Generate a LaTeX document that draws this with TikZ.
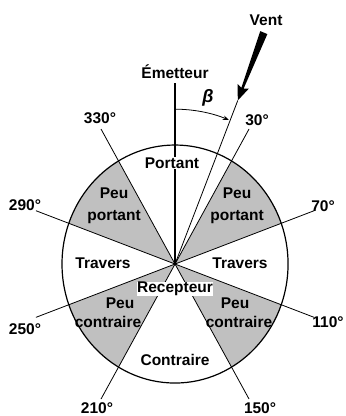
\documentclass[tikz,border=0pt]{standalone}
\usepackage{fontspec}
\setmainfont{Liberation Sans}
\usetikzlibrary{arrows.meta}
\definecolor{SectorGray}{HTML}{C0C0C0}

\tikzset{
  lbl/.style={font=\bfseries\fontsize{15.5}{18}\selectfont, inner sep=0pt},
  ray/.style={line width=0.8pt},
  sector/.style={fill=SectorGray},
}

\begin{document}
\begin{tikzpicture}[x=1pt, y=1pt, yscale=1.053]
  \useasboundingbox (-175,-144.3) rectangle (170,250.7);
  \coordinate (c) at (0,0);
  % Shaded sectors
  \begin{scope}
    \clip (c) circle[radius=113];
    \foreach \a in {20,-60,-160,120} {
      \fill[sector] (c) -- (\a:200) -- (\a+40:200) -- cycle;
    }
  \end{scope}
  % Circle and rays
  \draw[line width=1.2pt] (c) circle[radius=113];
  \foreach \b in {30,70,110,150,210,250,290,330} {
    \coordinate (r\b) at (90-\b:148);
    \draw[ray] (c) -- (r\b);
  }
  % Angle labels
  \foreach \b/\x/\y in {30/82/136.8, 70/148/55, 110/153/-55, 150/85/-136.8,
                        210/-78/-136.8, 250/-150/-61.7, 290/-150/56, 330/-75/138.6} {
    \node[lbl] (d\b) at (\x,\y) {\b°};
  }
  % Emitter axis
  \coordinate (etop) at (90:172);
  \draw[line width=2.6pt] (c) -- (etop);
  \node[lbl] (emet) at (0,182.4) {Émetteur};
  % Wind direction
  \coordinate (vtip) at (68:167.5);
  \draw[ray] (c) -- (vtip);
  \begin{scope}[rotate=68]
    \fill (167.5,0) -- (182,-6) -- (180,-1.2) -- (237,-3.8) -- (237,3.8) -- (180,1.2) -- (182,6) -- cycle;
  \end{scope}
  \node[lbl] (vent) at (91,231.7) {Vent};
  % Angle beta
  \coordinate (a0) at (90:147);
  \draw[ray, -{Stealth[length=6pt,width=4.5pt]}] (a0) arc[start angle=90, end angle=68.5, radius=147];
  \node[font=\bfseries\itshape\fontsize{18}{20}\selectfont, inner sep=0pt] (beta) at (33,157.6) {β};
  % Zones
  \node[lbl, fill=white, inner sep=0.5pt] (portant) at (-3,95.9) {Portant};
  \node[lbl] (ppL1) at (-61,67.4) {Peu};
  \node[lbl] (ppL2) at (-61,45) {portant};
  \node[lbl] (ppR1) at (62,67.4) {Peu};
  \node[lbl] (ppR2) at (62,45) {portant};
  \node[lbl] (travL) at (-72,1) {Travers};
  \node[lbl] (travR) at (65,1) {Travers};
  \node[lbl, fill=white, inner sep=0.5pt] (recep) at (0,-23.7) {Recepteur};
  \node[lbl] (pcL1) at (-55,-37) {Peu};
  \node[lbl] (pcL2) at (-67,-55) {contraire};
  \node[lbl] (pcR1) at (60,-37) {Peu};
  \node[lbl] (pcR2) at (64,-55) {contraire};
  \node[lbl] (contr) at (0,-91) {Contraire};
\end{tikzpicture}
\end{document}
